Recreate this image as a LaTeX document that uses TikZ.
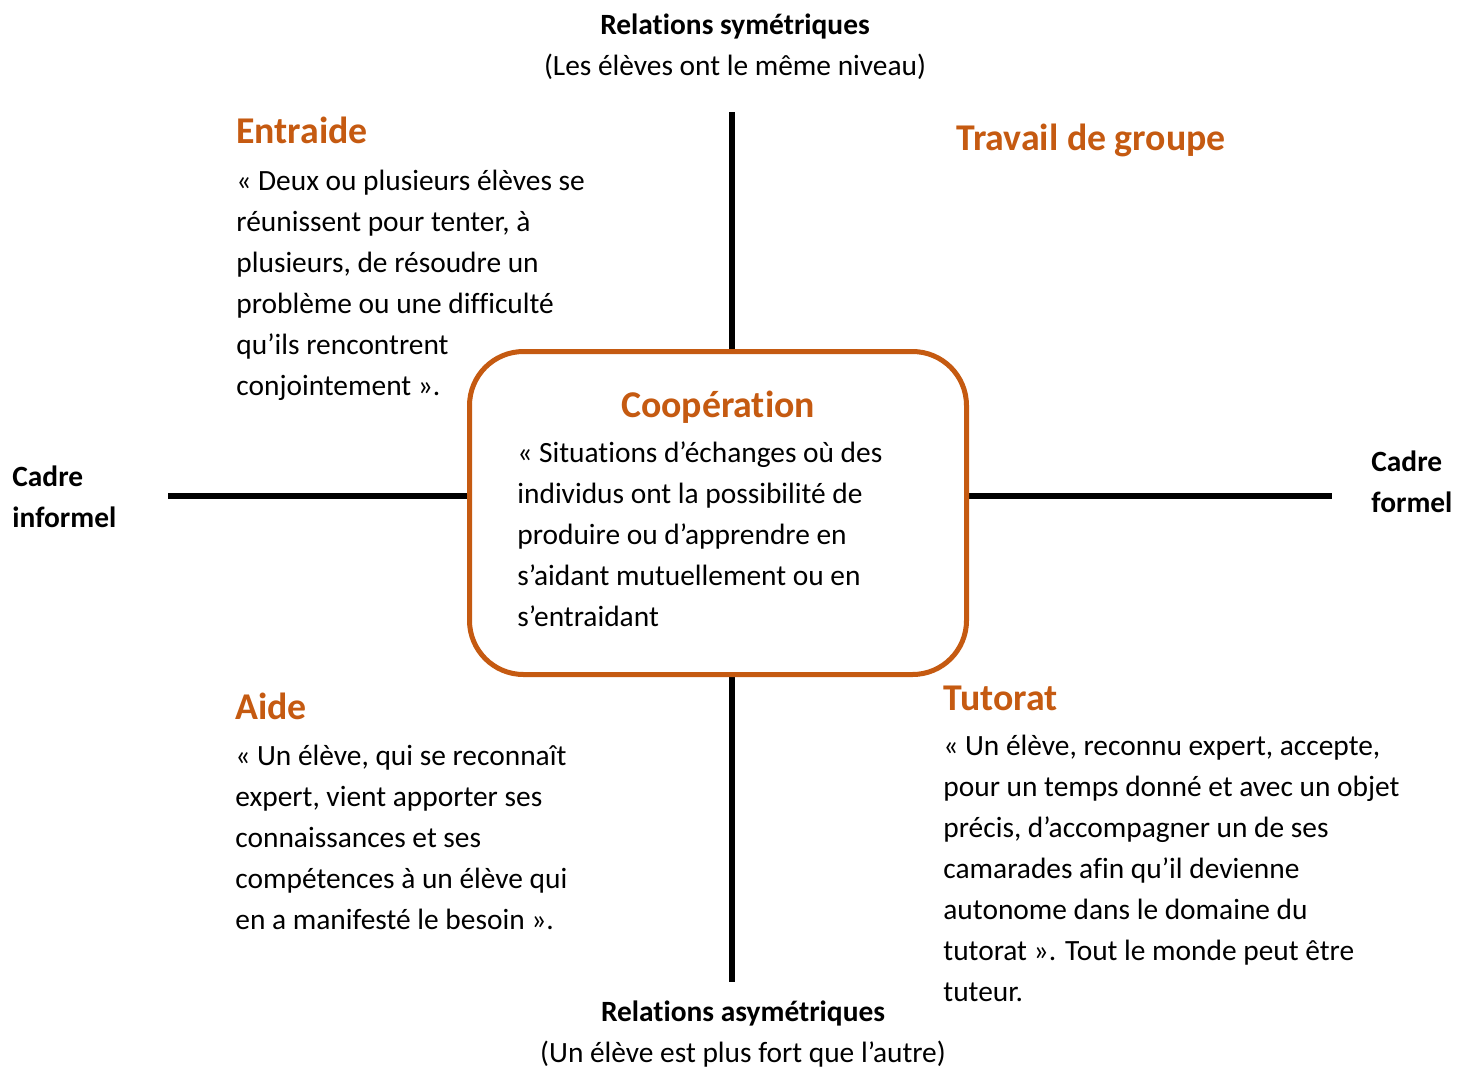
\documentclass[tikz,border=0pt]{standalone}
\usepackage{fontspec}
\setmainfont{Carlito}[RawFeature={-liga;-clig}]
\usetikzlibrary{positioning}
\definecolor{orangefonce}{RGB}{197,90,17}
\tikzstyle{titre} = [font=\fontsize{18.9}{22}\selectfont\bfseries, text=orangefonce, inner sep=0pt, anchor=base west]
\tikzstyle{corps} = [font=\fontsize{14.7}{20.5}\selectfont, align=left, inner sep=0pt, anchor=base west]
\tikzstyle{etiquette} = [font=\fontsize{14.7}{20.5}\selectfont, align=center, inner sep=0pt, anchor=base]
\tikzstyle{cadre} = [font=\fontsize{14.7}{20.5}\selectfont\bfseries, align=left, inner sep=0pt, anchor=base west]
\tikzstyle{coopbox} = [rectangle, rounded corners=27pt, minimum width=248.5pt, minimum height=161.5pt, draw=orangefonce, fill=white, line width=2.5pt]
\tikzstyle{axe} = [line width=3pt]

\begin{document}
\begin{tikzpicture}[x=0.5pt, y=-0.5pt]
\useasboundingbox (0,0) rectangle (1467,1067);

% axes
\coordinate (haut) at (732,112);
\coordinate (bas) at (732,982);
\coordinate (gauche) at (168,496);
\coordinate (droite) at (1332,496);
\draw [axe] (haut) -- (bas);
\draw [axe] (gauche) -- (droite);

% cadre central (base = derniere ligne)
\node (coop) [coopbox] at (718,513) {};
\node (cooptitre) [titre, anchor=base] at (718,417) {Coopération};
\node (cooptexte) [corps] at (517,626) {« Situations d’échanges où des\\individus ont la possibilité de\\produire ou d’apprendre en\\s’aidant mutuellement ou en\\s’entraidant};

% quadrants
\node (entraide) [titre] at (236,143) {Entraide};
\node (entraidetexte) [corps] at (236,395) {« Deux ou plusieurs élèves se\\réunissent pour tenter, à\\plusieurs, de résoudre un\\problème ou une difficulté\\qu’ils rencontrent\\conjointement ».};
\node (travail) [titre] at (956,150) {Travail de groupe};
\node (aide) [titre] at (235,719) {Aide};
\node (aidetexte) [corps] at (235,929) {« Un élève, qui se reconnaît\\expert, vient apporter ses\\connaissances et ses\\compétences à un élève qui\\en a manifesté le besoin ».};
\node (tutorat) [titre] at (943,710) {Tutorat};
\node (tutorattexte) [corps] at (943,1001) {« Un élève, reconnu expert, accepte,\\pour un temps donné et avec un objet\\précis, d’accompagner un de ses\\camarades afin qu’il devienne\\autonome dans le domaine du\\tutorat ». Tout le monde peut être\\tuteur.};

% etiquettes des axes
\node (sym) [etiquette] at (735,75) {\textbf{Relations symétriques}\\(Les élèves ont le même niveau)};
\node (asym) [etiquette] at (743,1062) {\textbf{Relations asymétriques}\\(Un élève est plus fort que l’autre)};
\node (informel) [cadre] at (12,527) {Cadre\\informel};
\node (formel) [cadre] at (1371,512) {Cadre\\formel};

\end{tikzpicture}
\end{document}
